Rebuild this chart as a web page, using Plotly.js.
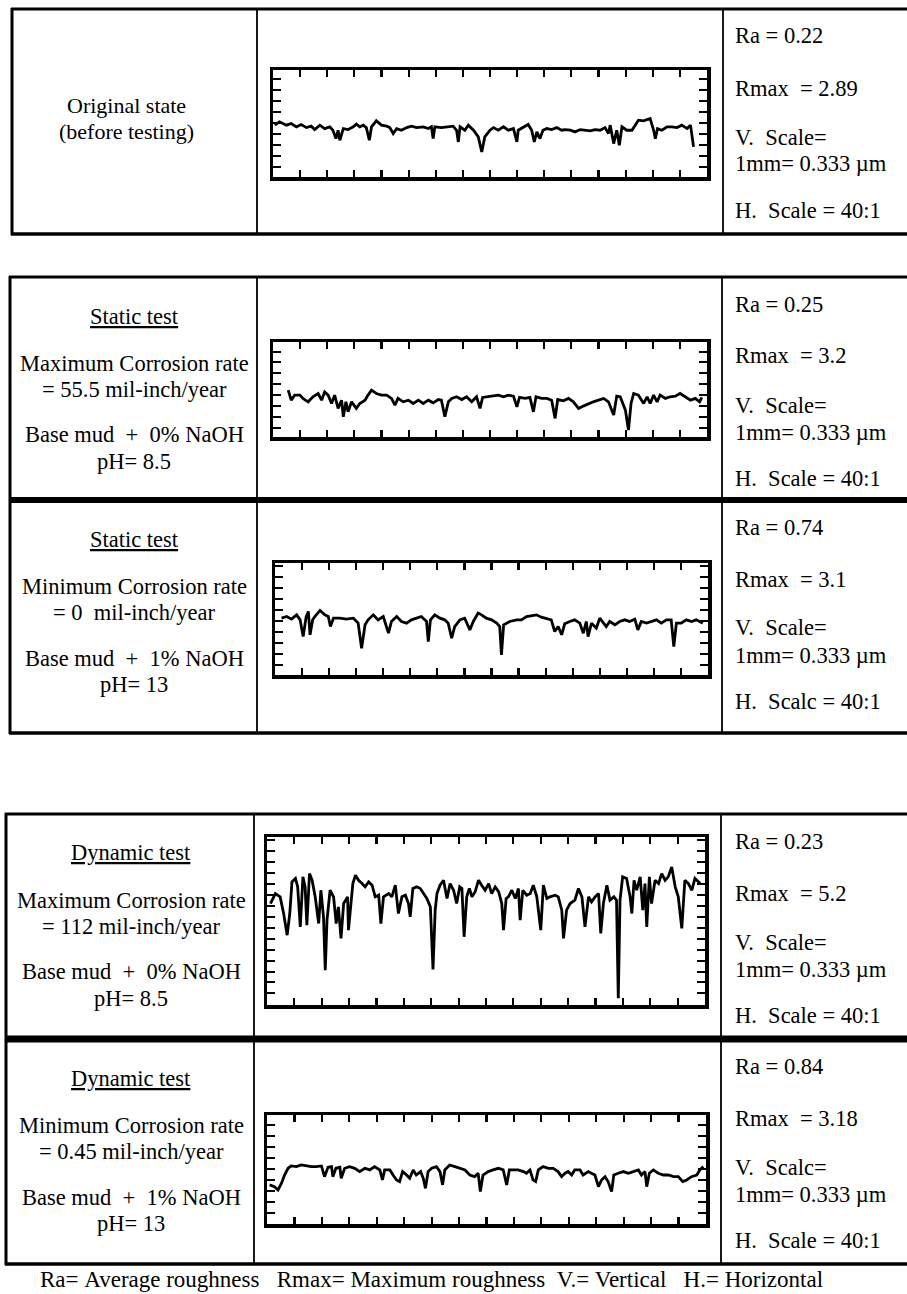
<!DOCTYPE html>
<html>
<head>
<meta charset="utf-8">
<script src="https://cdn.plot.ly/plotly-3.0.1.min.js"></script>
<style>html,body{margin:0;padding:0;background:#fff;}#chart{width:907px;height:1294px;}</style>
</head>
<body>
<div id="chart"></div>
<script>
// ---------- DATA (surface roughness profiles) ----------
// x: position along trace (% of trace length); y: profile height (chart mm units)
const p1x = [0.4,1.5,3.1,4.2,5.4,6.5,7.7,8.8,9.6,10.8,11.9,13.1,13.8,14.5,15.0,15.4,16.2,17.3,18.5,19.2,20.0,20.8,21.5,22.2,22.7,23.8,25.0,26.2,26.9,27.7,28.5,29.6,30.8,31.9,33.1,34.6,35.8,36.5,36.9,37.3,38.8,40.4,41.5,42.3,42.7,43.1,44.2,45.0,46.2,47.3,48.1,48.8,50.0,50.8,51.9,53.1,54.2,55.4,56.2,56.5,57.7,58.8,59.6,60.2,60.8,61.5,62.2,63.1,64.2,65.4,66.5,67.3,68.5,69.6,70.8,71.9,73.1,74.2,75.4,76.5,77.3,77.7,78.5,79.2,79.8,80.4,81.5,82.7,83.5,84.2,85.4,86.2,86.9,87.7,88.1,88.6,89.6,90.8,91.9,93.1,94.2,95.4,96.2,96.9];
const p1y = [4.70,5.00,4.70,4.85,4.55,4.76,4.48,4.61,4.30,4.70,4.39,4.55,4.24,3.48,4.24,3.33,4.39,4.30,4.55,4.79,4.55,4.70,4.48,3.33,4.55,5.09,4.70,4.61,4.48,3.94,4.39,4.24,4.48,4.61,4.48,4.55,4.39,4.55,3.48,4.55,4.48,4.55,4.61,4.24,3.18,4.55,4.24,4.70,4.24,3.64,2.27,3.64,4.24,4.48,4.24,4.55,4.24,4.39,3.18,4.24,4.55,4.76,4.24,3.18,4.09,3.48,4.24,4.39,4.30,4.48,4.24,4.30,4.24,4.09,4.30,4.24,4.18,4.30,4.24,4.48,3.94,4.70,3.03,4.24,2.88,4.55,4.24,4.24,4.70,5.15,5.09,5.21,5.30,4.24,3.48,4.39,4.24,4.55,4.55,4.48,4.70,4.39,4.70,2.73];

const p2x = [3.5,4.2,5.0,6.2,6.9,8.1,9.2,10.4,11.2,11.9,12.7,13.5,14.2,15.0,15.8,16.2,16.8,17.3,18.1,19.2,20.0,21.2,21.9,22.7,23.8,25.0,26.2,27.3,28.1,28.8,30.0,31.2,32.3,33.5,34.6,35.8,36.9,38.1,38.8,39.6,40.4,41.2,42.3,43.5,44.6,45.8,46.9,47.7,48.3,49.6,50.8,51.9,53.1,54.2,55.4,56.2,56.8,58.1,59.2,60.0,60.6,61.9,63.1,64.2,65.0,65.6,66.9,68.1,69.2,70.4,71.5,72.7,73.8,75.0,76.2,77.3,78.5,79.2,80.0,81.2,81.9,82.5,83.1,84.2,85.4,86.2,86.9,87.7,88.5,89.2,90.4,91.5,92.7,93.8,95.0,96.2,97.3,98.3,98.8];
const p2y = [4.27,3.36,3.82,3.82,3.52,3.21,3.67,3.97,3.36,4.12,3.82,3.06,3.82,2.61,3.36,1.85,3.21,2.30,3.21,2.61,3.06,3.36,3.82,4.27,3.97,3.82,3.82,3.52,2.91,3.52,3.21,3.36,3.06,3.36,3.06,3.36,3.12,3.42,3.36,1.85,3.21,3.52,3.67,3.42,3.67,3.21,3.67,2.61,3.61,3.67,3.73,3.82,3.67,3.82,3.73,2.76,3.61,3.52,3.61,2.30,3.67,3.52,3.52,3.36,1.70,3.42,3.30,3.52,3.21,2.61,2.82,3.06,3.21,3.36,3.52,3.21,2.00,3.73,3.67,2.45,0.64,3.06,3.97,3.82,3.06,3.67,3.06,3.82,3.21,3.82,3.52,3.67,3.73,3.97,3.67,3.36,3.52,3.21,3.61];

const p3x = [1.5,2.7,3.8,5.0,5.8,6.5,7.2,7.7,8.1,8.7,9.2,10.4,11.5,12.3,12.8,13.5,15.0,16.5,18.1,19.2,20.0,20.8,21.5,22.7,23.8,25.0,26.2,26.9,28.1,29.2,30.4,31.5,32.7,33.8,35.0,35.4,35.9,36.9,38.1,39.2,40.0,40.8,41.5,42.7,43.8,45.0,45.8,46.9,47.7,48.8,50.0,51.2,51.9,52.3,52.8,54.2,55.8,56.9,58.1,59.2,60.4,61.5,62.7,63.8,64.6,65.4,66.2,66.9,68.1,69.2,70.4,71.2,71.9,72.3,73.1,74.2,75.0,75.8,76.5,77.3,78.5,79.6,80.8,81.9,83.1,83.8,84.6,85.8,86.9,88.1,89.2,90.4,91.5,92.1,92.7,93.8,95.0,96.2,97.3,98.8];
const p3y = [5.15,5.30,5.06,5.45,5.00,3.48,5.30,5.76,3.64,5.00,5.30,5.85,5.45,5.30,4.39,5.15,5.15,5.06,5.15,4.70,2.42,4.55,5.00,5.45,5.00,5.30,3.79,4.85,5.30,4.85,4.70,5.00,5.15,5.30,4.85,3.03,5.00,5.45,5.15,5.00,4.70,3.33,4.39,5.00,5.15,4.09,4.85,5.61,5.45,5.15,5.00,4.70,4.39,1.82,4.55,4.85,5.00,5.00,5.30,5.36,5.45,5.24,5.15,5.00,3.94,4.39,3.64,4.64,4.85,5.00,4.70,3.79,4.85,3.48,4.70,4.24,5.15,4.70,4.39,4.85,4.55,4.85,5.00,4.85,5.06,4.09,4.85,4.70,4.85,5.00,4.70,5.00,5.00,2.58,4.70,4.70,5.00,4.85,5.00,4.70];

const p4x = [0.8,1.9,3.0,3.8,4.6,5.2,5.7,6.5,7.0,7.6,8.2,8.7,9.1,9.7,10.3,11.0,11.8,12.3,12.9,13.3,13.7,14.4,15.2,15.8,16.3,16.9,17.5,18.4,18.6,19.0,19.6,20.2,20.9,21.7,22.4,23.2,24.0,24.7,25.5,26.0,26.6,27.8,28.5,29.3,30.0,30.8,31.6,32.3,32.7,33.3,34.2,35.0,35.7,36.5,37.3,37.9,38.4,38.8,39.5,40.3,41.1,41.8,42.6,43.3,44.0,44.5,45.0,45.6,46.2,46.8,47.5,48.3,49.0,49.8,50.6,51.3,52.1,52.9,53.6,54.0,54.6,55.1,55.9,56.7,57.4,57.8,58.4,59.3,60.1,60.8,61.6,62.5,63.1,63.9,64.6,65.8,66.5,67.3,67.7,68.4,69.2,70.3,71.1,71.9,72.6,73.4,74.1,74.9,75.7,76.2,76.8,77.6,78.3,79.2,79.8,80.2,80.6,81.2,82.1,82.9,83.3,83.8,84.4,85.2,85.8,86.3,86.7,87.3,87.8,88.6,89.4,90.1,90.9,91.6,92.4,93.2,93.9,94.7,95.4,96.2,97.0,97.7,98.9];
const p4y = [9.24,10.15,9.85,8.33,6.36,8.33,11.21,11.52,10.76,7.12,11.67,10.76,7.27,11.97,11.36,9.85,7.42,10.45,8.03,3.18,7.73,10.45,9.85,7.42,8.94,6.06,9.24,9.85,6.82,8.64,11.06,11.82,11.36,11.06,10.76,11.21,10.91,9.85,10.00,7.42,9.85,10.15,9.85,10.91,8.33,9.85,10.00,9.24,8.03,10.61,10.76,10.61,10.15,9.70,8.94,3.24,8.64,10.15,10.91,11.36,9.70,11.06,10.45,9.24,10.76,10.61,6.21,9.85,10.61,9.85,10.30,11.36,10.91,10.45,11.06,10.15,10.76,10.30,9.24,6.82,9.70,9.85,10.45,9.70,10.61,7.73,10.45,10.00,10.15,10.91,9.85,6.82,10.91,9.70,9.85,10.00,9.85,8.64,6.06,8.64,9.24,9.55,10.61,9.85,7.12,9.85,9.39,9.85,10.15,6.52,9.24,10.91,9.55,9.85,9.55,0.61,9.55,11.67,11.52,9.85,8.33,11.36,10.45,11.67,8.64,11.06,7.12,11.67,9.24,11.36,11.06,11.97,11.36,11.67,12.58,10.76,9.85,6.97,11.36,11.06,10.45,11.52,11.06];

const p5x = [0.6,1.7,2.5,3.3,4.0,4.8,5.5,6.7,7.8,9.0,10.1,11.2,12.4,13.1,13.9,14.7,15.0,15.7,16.6,16.9,17.7,18.8,20.0,21.1,22.3,23.4,24.5,25.7,26.3,26.8,28.0,28.7,29.5,30.2,30.9,31.8,32.5,33.3,34.0,35.0,35.6,36.1,36.7,37.5,38.6,39.4,40.0,40.5,41.6,42.8,43.9,45.1,46.2,47.3,48.1,48.6,49.2,50.4,51.5,52.7,53.8,54.6,55.2,56.1,57.2,58.4,59.1,59.9,60.6,61.2,61.8,62.9,64.1,65.2,66.3,67.1,67.9,68.6,69.4,70.1,71.3,72.0,73.2,73.9,74.7,75.5,76.2,77.0,77.7,78.5,79.0,80.0,81.2,82.3,83.4,84.6,85.3,86.1,86.5,87.1,88.0,89.1,90.3,91.4,92.6,93.7,94.7,95.6,96.7,97.9,98.6,99.4];
const p5y = [3.55,3.39,3.09,3.70,4.45,5.06,5.27,5.21,5.36,5.27,5.21,5.21,5.27,4.30,5.15,5.21,4.30,5.06,5.15,4.15,5.06,5.21,5.06,4.76,5.06,4.91,5.21,4.91,4.00,4.91,4.91,4.45,4.00,3.85,4.76,4.45,4.15,4.91,4.45,4.76,4.15,3.24,4.76,5.06,5.21,4.76,3.55,4.91,5.36,5.21,5.06,4.91,4.45,4.30,4.61,2.94,4.45,4.76,4.91,5.06,4.91,3.55,4.91,4.91,4.91,4.76,4.61,4.91,4.00,3.85,4.91,5.21,5.06,5.06,4.76,4.30,4.61,4.76,4.45,4.91,4.91,4.45,4.76,4.61,4.45,3.39,4.00,4.30,3.85,2.94,4.45,4.61,4.76,4.61,4.76,4.91,4.45,4.76,3.39,4.61,4.91,4.61,4.45,4.45,4.30,4.30,3.85,4.00,4.30,4.45,4.91,5.21];

// Row texts
const testNames   = ["Static test","Static test","Dynamic test","Dynamic test"];
const rateLabels  = ["Maximum Corrosion rate","Minimum Corrosion rate","Maximum Corrosion rate","Minimum Corrosion rate"];
const rateValues  = ["= 55.5 mil-inch/year","= 0  mil-inch/year","= 112 mil-inch/year","= 0.45 mil-inch/year"];
const mudLabels   = ["Base mud  +  0% NaOH","Base mud  +  1% NaOH","Base mud  +  0% NaOH","Base mud  +  1% NaOH"];
const phLabels    = ["pH= 8.5","pH= 13","pH= 8.5","pH= 13"];
const raValues    = ["0.22","0.25","0.74","0.23","0.84"];
const rmaxValues  = ["2.89","3.2","3.1","5.2","3.18"];
const vScaleLabels= ["V.  Scale=","V.  Scale=","V.  Scale=","V.  Scale=","V.  Scalc="];
const vScaleValue = "1mm= 0.333 \u00b5m";
const hScaleLabels= ["H.  Scale = 40:1","H.  Scale = 40:1","H.  Scalc = 40:1","H.  Scale = 40:1","H.  Scale = 40:1"];
const footerText  = "Ra= Average roughness   Rmax= Maximum roughness  V.= Vertical   H.= Horizontal";

// ---------- LAYOUT ----------
const W = 907, H = 1294;
const fx = v => v / W, fy = v => 1 - v / H;
const nb = s => s.replace(/ /g, "\u00a0");
const FONT = "Liberation Serif";

const profiles = [
  {x:p1x, y:p1y, box:[273,707,70,177],  yr:9.7,  t0:0.9},
  {x:p2x, y:p2y, box:[273,707,342,437], yr:8.67, t0:0.8},
  {x:p3x, y:p3y, box:[275,708,563,675], yr:10.15,t0:0.9},
  {x:p4x, y:p4y, box:[267,705,837,1005],yr:15.3, t0:1.05},
  {x:p5x, y:p5y, box:[267,706,1115,1224],yr:9.9, t0:0.97}
];

const data = [];
const layout = {
  width: W, height: H, margin:{l:0,r:0,t:0,b:0},
  paper_bgcolor:"#fff", plot_bgcolor:"#fff", showlegend:false,
  shapes: [], annotations: []
};
profiles.forEach((p, i) => {
  const n = i === 0 ? "" : String(i + 1);
  data.push({x:p.x, y:p.y, type:"scatter", mode:"lines", xaxis:"x"+n, yaxis:"y"+n,
             line:{color:"#000", width:2.8}, hoverinfo:"skip"});
  const [x0,x1,y0,y1] = p.box;
  layout["xaxis"+n] = {domain:[fx(x0), fx(x1)], anchor:"y"+n, range:[0,100], tick0:0, dtick:6.25,
    ticks:"inside", ticklen:7, tickwidth:2.2, tickcolor:"#000", showticklabels:false,
    showgrid:false, zeroline:false, showline:true, linewidth:3.5, linecolor:"#000", mirror:"ticks", fixedrange:true};
  layout["yaxis"+n] = {domain:[fy(y1), fy(y0)], anchor:"x"+n, range:[0,p.yr], tick0:p.t0, dtick:1,
    ticks:"inside", ticklen:8, tickwidth:2, tickcolor:"#000", showticklabels:false,
    showgrid:false, zeroline:false, showline:true, linewidth:3.5, linecolor:"#000", mirror:"ticks", fixedrange:true};
});

// table lines
function hline(y, x0, x1, w){ layout.shapes.push({type:"line", xref:"paper", yref:"paper", x0:fx(x0), x1:fx(x1), y0:fy(y), y1:fy(y), line:{color:"#000", width:w}}); }
function vline(x, y0, y1, w){ layout.shapes.push({type:"line", xref:"paper", yref:"paper", x0:fx(x), x1:fx(x), y0:fy(y0), y1:fy(y1), line:{color:"#000", width:w}}); }
// table 1
hline(9, 11, 907, 3); hline(234, 11, 907, 3.5);
vline(12, 8, 235, 3); vline(257, 9, 234, 1.8); vline(723, 9, 234, 1.8);
// table 2
hline(277, 9, 907, 3); hline(500, 9, 907, 6); hline(733, 9, 907, 3.5);
vline(10, 276, 734, 3); vline(257, 277, 733, 1.8); vline(722, 277, 733, 1.8);
// table 3
hline(814, 5, 907, 3); hline(1039, 5, 907, 7); hline(1264, 5, 907, 3.5);
vline(6, 813, 1265, 3); vline(254, 814, 1264, 1.8); vline(721, 814, 1264, 1.8);

function ann(text, x, y, anchor, size){
  layout.annotations.push({text:nb(text), x:fx(x), y:fy(y), xref:"paper", yref:"paper",
    xanchor:anchor, yanchor:"middle", showarrow:false, font:{family:FONT, size:size, color:"#000"}});
}
// column 1
ann("Original state", 127, 105, "center", 22);
ann("(before testing)", 127, 131, "center", 22);
const rowTops = [277, 500, 814, 1039];
const colCenters = [134, 134, 131, 131];
rowTops.forEach((t, i) => {
  const c = colCenters[i];
  layout.annotations.push({text:"<u>"+nb(testNames[i])+"</u>", x:fx(c), y:fy(t+39), xref:"paper", yref:"paper",
    xanchor:"center", yanchor:"middle", showarrow:false, font:{family:FONT, size:22.5, color:"#000"}});
  ann(rateLabels[i], c, t+86, "center", 22.5);
  ann(rateValues[i], c, t+112, "center", 22.5);
  ann(mudLabels[i], c, t+158, "center", 22.5);
  ann(phLabels[i], c, t+184, "center", 22.5);
});
// column 3
const col3Tops = [9, 277, 500, 814, 1039];
col3Tops.forEach((t, i) => {
  ann("Ra = " + raValues[i], 733, t+27, "left", 22.5);
  ann("Rmax  = " + rmaxValues[i], 733, t+79, "left", 22.5);
  ann(vScaleLabels[i], 733, t+128, "left", 22.5);
  ann(vScaleValue, 733, t+155, "left", 22.5);
  ann(hScaleLabels[i], 733, t+201, "left", 22.5);
});
ann(footerText, 38, 1279, "left", 23);

Plotly.newPlot("chart", data, layout, {staticPlot:true, displayModeBar:false});
</script>
</body>
</html>
